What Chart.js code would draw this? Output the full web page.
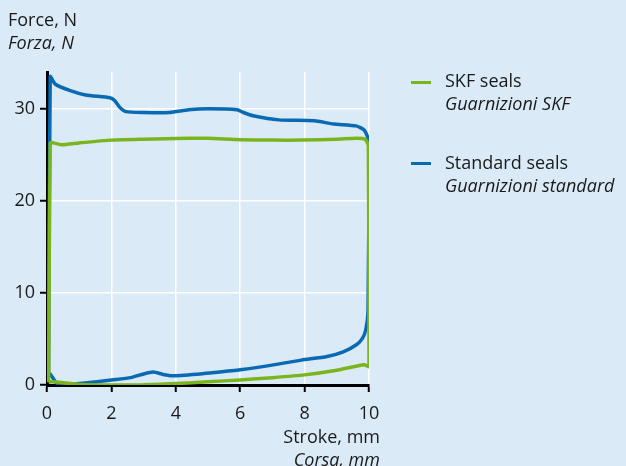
<!DOCTYPE html>
<html>
<head>
<meta charset="utf-8">
<script src="https://cdn.jsdelivr.net/npm/chart.js@4"></script>
<style>
  body { margin: 0; background: #dbeaf7; }
  #wrap { position: relative; width: 626px; height: 466px; font-family: "Open Sans", sans-serif; color: #1a1a1a; font-size: 18px; }
  canvas { position: absolute; left: 0; top: 0; }
  .lbl { position: absolute; line-height: 23px; white-space: nowrap; }
  .it { font-style: italic; }
  .key { position: absolute; width: 20px; height: 3px; }
</style>
</head>
<body>
<div id="wrap">
  <canvas id="forceChart" width="626" height="466"></canvas>
  <div class="lbl" style="left:8px; top:8px;">Force, N<br><span class="it">Forza, N</span></div>
  <div class="lbl" style="right:246px; top:425px; text-align:right;">Stroke, mm<br><span class="it">Corsa, mm</span></div>
  <div class="key" style="left:411px; top:81px; background:#7ab51d;"></div>
  <div class="lbl" style="left:445px; top:69px;">SKF seals<br><span class="it">Guarnizioni SKF</span></div>
  <div class="key" style="left:411px; top:162px; background:#0a69b3;"></div>
  <div class="lbl" style="left:445px; top:151px;">Standard seals<br><span class="it">Guarnizioni standard</span></div>
</div>
<script>
const skfStroke = [0.05, 0.1, 0.2, 0.46, 1, 2, 3, 4.4, 5, 6, 7, 7.9, 9, 9.6, 9.88, 9.98, 10, 9.85, 9, 8, 7, 6, 5, 4, 3, 2, 1, 0.5, 0.15, 0.05];
const skfForce = [0.3, 26.3, 26.3, 26.1, 26.3, 26.6, 26.7, 26.8, 26.8, 26.65, 26.6, 26.6, 26.7, 26.8, 26.7, 26.0, 2.0, 2.2, 1.6, 1.1, 0.8, 0.55, 0.35, 0.15, 0.02, 0.0, 0.05, 0.25, 0.35, 0.3];

const stdStroke = [0.05, 0.1, 0.25, 0.7, 1.2, 1.95, 2.1, 2.25, 2.45, 3, 3.8, 4.4, 5, 5.9, 6.1, 6.4, 7.2, 8.3, 8.9, 9.6, 9.85, 9.97, 10, 9.97, 9.9, 9.8, 9.62, 9.2, 8.7, 7.9, 6.8, 6, 5.2, 4.75, 3.9, 3.6, 3.3, 3.0, 2.6, 2, 1.1, 0.6, 0.3, 0.1, 0.05];
const stdForce = [1, 33.5, 32.7, 32.0, 31.5, 31.2, 30.9, 30.2, 29.7, 29.6, 29.6, 29.9, 30, 29.9, 29.6, 29.25, 28.8, 28.7, 28.35, 28.15, 27.7, 26.8, 25, 8, 6, 5.1, 4.4, 3.6, 3.1, 2.7, 2.05, 1.65, 1.35, 1.2, 1.0, 1.15, 1.4, 1.2, 0.8, 0.55, 0.18, 0.05, 0.2, 1.2, 1];

const xTicks = [0, 2, 4, 6, 8, 10];
const yTicks = [0, 10, 20, 30];

function toPoints(xs, ys) {
    return xs.map((x, i) => ({ x: x, y: ys[i] }));
}

const ctx = document.getElementById('forceChart').getContext('2d');

const forceChart = new Chart(ctx, {
    type: 'scatter',
    data: {
        datasets: [{
            label: 'SKF seals',
            data: toPoints(skfStroke, skfForce),
            showLine: true,
            borderColor: '#7ab51d',
            borderWidth: 3.5,
            pointRadius: 0,
            tension: 0.2,
            order: 0
        }, {
            label: 'Standard seals',
            data: toPoints(stdStroke, stdForce),
            showLine: true,
            borderColor: '#0a69b3',
            borderWidth: 3.5,
            pointRadius: 0,
            tension: 0.2,
            order: 1
        }]
    },
    options: {
        responsive: false,
        animation: false,
        layout: { padding: { left: 0, right: 257, top: 72, bottom: 0 } },
        plugins: {
            legend: { display: false },
            tooltip: { enabled: false }
        },
        scales: {
            x: {
                type: 'linear',
                min: 0,
                max: 10,
                afterBuildTicks: (scale) => { scale.ticks = xTicks.map(v => ({ value: v })); },
                afterFit: (scale) => { scale.height = 81; },
                ticks: { color: '#1a1a1a', font: { family: 'Open Sans', size: 18 }, padding: 11 },
                grid: { color: '#ffffff', lineWidth: 1.5, tickColor: '#000', tickLength: 7, tickWidth: 2 },
                border: { color: '#000', width: 3 }
            },
            y: {
                type: 'linear',
                min: 0,
                max: 34,
                afterBuildTicks: (scale) => { scale.ticks = yTicks.map(v => ({ value: v })); },
                afterFit: (scale) => { scale.width = 47; },
                ticks: { color: '#1a1a1a', font: { family: 'Open Sans', size: 18 }, padding: 5 },
                grid: { color: '#ffffff', lineWidth: 1.5, tickColor: '#000', tickLength: 7, tickWidth: 2 },
                border: { color: '#000', width: 3 }
            }
        }
    }
});
</script>
</body>
</html>
